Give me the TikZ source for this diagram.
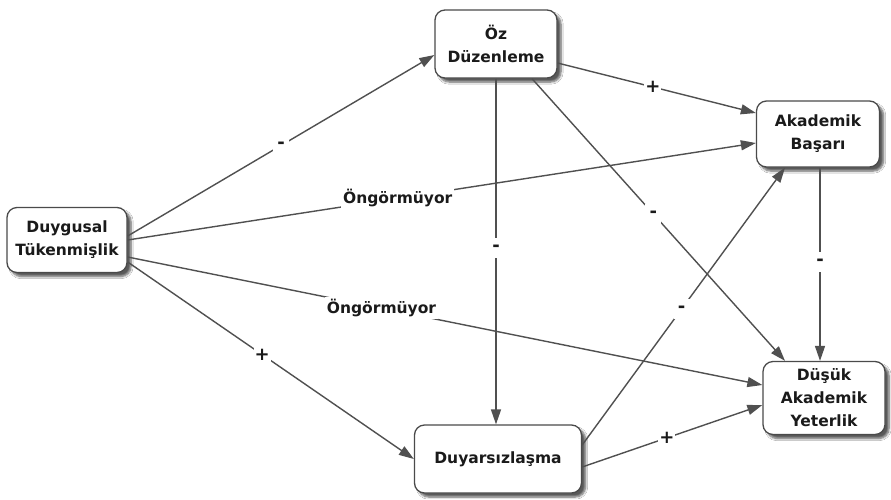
\documentclass[tikz,border=0pt]{standalone}
\usepackage{fontspec}
\setmainfont{DejaVu Sans}
\usetikzlibrary{arrows.meta,shadows.blur}

\definecolor{boxline}{HTML}{4A4A4A}
\definecolor{linecol}{HTML}{505050}
\definecolor{textcol}{HTML}{1A1A1A}

\tikzset{
  box/.style={draw=boxline, line width=1.3pt, rounded corners=10pt, fill=white,
    align=center, text=textcol, inner sep=0pt,
    font=\bfseries\fontsize{15.5}{23}\selectfont,
    blur shadow={shadow xshift=4pt, shadow yshift=-4pt, shadow blur steps=6,
      shadow opacity=65}},
  link/.style={draw=linecol, line width=1.4pt,
    -{Triangle[length=15pt,width=10pt]}},
  sign/.style={fill=white, inner sep=1pt, minimum width=16pt, minimum height=20pt,
    text=textcol, font=\bfseries\fontsize{18}{20}\selectfont},
  lbl/.style={fill=white, inner sep=2pt, text=textcol,
    font=\bfseries\fontsize{15.5}{18}\selectfont}
}

\begin{document}
\begin{tikzpicture}[x=1pt,y=-1pt]
\useasboundingbox[fill=white] (0,0) rectangle (891,499);

% the five constructs
\node[box, minimum width=120pt, minimum height=65pt] (dt)  at (67,240)  {Duygusal\\Tükenmişlik};
\node[box, minimum width=122pt, minimum height=68pt] (oz)  at (496,44)  {Öz\\Düzenleme};
\node[box, minimum width=123pt, minimum height=66pt] (ab)  at (818,134) {Akademik\\Başarı};
\node[box, minimum width=122pt, minimum height=73pt] (day) at (824,398) {Düşük\\Akademik\\Yeterlik};
\node[box, minimum width=167pt, minimum height=68pt] (duy) at (498,459) {Duyarsızlaşma};

% paths from Duygusal Tükenmişlik
\draw[link] ([yshift=4pt]dt.east) -- node[sign, pos=0.5] {-} ([yshift=-11pt]oz.west);
\draw[link] (dt.east) -- node[lbl, pos=0.43] {Öngörmüyor} ([yshift=-9pt]ab.west);
\draw[link] ([yshift=-17pt]dt.east) -- node[lbl, pos=0.4] {Öngörmüyor} ([yshift=13pt]day.west);
\draw[link] ([yshift=-22pt]dt.east) -- node[sign, pos=0.47] {+} (duy.west);

% paths from Öz Düzenleme
\draw[link] ([yshift=-19pt]oz.east) -- node[sign, pos=0.48] {+} ([yshift=21pt]ab.west);
\draw[link] (oz.south) -- node[sign, pos=0.49] {-} (oz.south |- duy.north);
\draw[link] ([xshift=36pt]oz.south) -- node[sign, pos=0.48] {-} ([xshift=-39pt]day.north);

% paths from Akademik Başarı and Duyarsızlaşma
\draw[link] ([xshift=2pt]ab.south) -- node[sign, pos=0.49] {-} ([xshift=2pt]ab.south |- day.north);
\draw[link] ([yshift=14pt]duy.east) -- node[sign, pos=0.49] {-} ([xshift=-33pt]ab.south);
\draw[link] ([yshift=-8pt]duy.east) -- node[sign, pos=0.47] {+} ([yshift=-7pt]day.west);
\end{tikzpicture}
\end{document}
